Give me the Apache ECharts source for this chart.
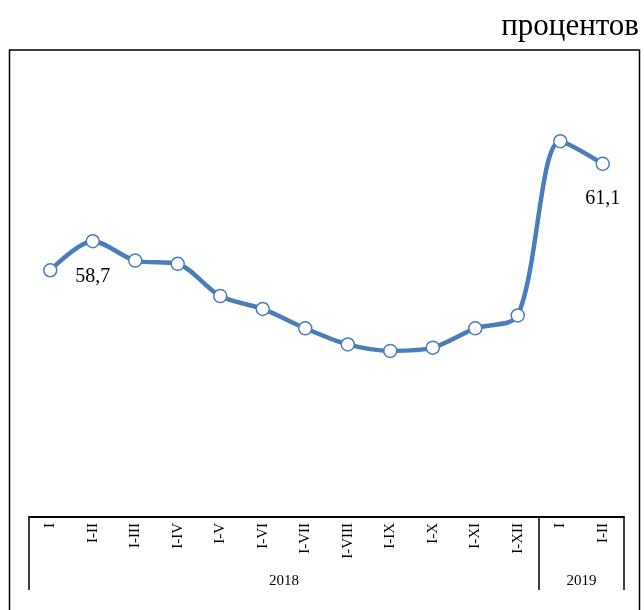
<!DOCTYPE html>
<html>
<head>
<meta charset="utf-8">
<script src="https://cdn.jsdelivr.net/npm/echarts@6/dist/echarts.min.js"></script>
<style>
    html, body { margin: 0; padding: 0; background: #fff; }
    #main { width: 644px; height: 610px; }
</style>
</head>
<body>
<div id="main"></div>
<script>
// подписи периодов
var periods = ['I', 'I-II', 'I-III', 'I-IV', 'I-V', 'I-VI', 'I-VII', 'I-VIII', 'I-IX', 'I-X', 'I-XI', 'I-XII', 'I', 'I-II'];
// значения, процентов
var values = [57.8, 58.7, 58.1, 58.0, 57.0, 56.6, 56.0, 55.5, 55.3, 55.4, 56.0, 56.4, 61.8, 61.1];
// годы и сколько периодов в каждом
var years = ['2018', '2019'];
var yearSpans = [12, 2];
// подписанные точки
var labeledIdx = [1, 13];

var yearStarts = [], yearCenters = {};
var acc = 0;
for (var i = 0; i < years.length; i++) {
    yearStarts.push(acc);
    yearCenters[acc + yearSpans[i] / 2] = years[i];
    acc += yearSpans[i];
}

var FONT = '"Liberation Serif", "Times New Roman", serif';
var BLUE = '#4a7ebb';

var chart = echarts.init(document.getElementById('main'));
var option = {
    animation: false,
    title: {
        text: 'процентов',
        right: 5,
        top: 11,
        padding: 0,
        textStyle: { fontFamily: FONT, fontSize: 31, fontWeight: 'normal', color: '#000' }
    },
    graphic: [{
        type: 'rect',
        shape: { x: 9.5, y: 50, width: 630, height: 580 },
        style: { fill: 'none', stroke: '#000', lineWidth: 1.5 },
        silent: true
    }],
    grid: { left: 29, right: 20, top: 59, bottom: 93 },
    xAxis: [
        {
            type: 'category',
            data: periods,
            boundaryGap: true,
            axisLine: { lineStyle: { color: '#000', width: 2 } },
            axisTick: {
                show: true,
                length: 73,
                interval: function (idx) { return yearStarts.indexOf(idx) >= 0; },
                lineStyle: { color: '#000', width: 1.5 }
            },
            axisLabel: {
                interval: 0,
                rotate: 90,
                margin: 6,
                fontFamily: FONT,
                fontSize: 15,
                color: '#000'
            }
        },
        {
            type: 'value',
            position: 'bottom',
            offset: 50,
            min: 0,
            max: periods.length,
            interval: 1,
            axisLine: { show: false },
            axisTick: { show: false },
            splitLine: { show: false },
            axisLabel: {
                margin: 7,
                fontFamily: FONT,
                fontSize: 15,
                color: '#000',
                formatter: function (v) { return yearCenters[v] || ''; }
            }
        }
    ],
    yAxis: {
        type: 'value',
        min: 50.15,
        max: 64.35,
        show: false,
        splitLine: { show: false }
    },
    series: [{
        type: 'line',
        data: values,
        smooth: 0.3,
        symbol: 'circle',
        symbolSize: 13,
        showAllSymbol: true,
        lineStyle: { color: BLUE, width: 4.5 },
        itemStyle: { color: '#fff', borderColor: BLUE, borderWidth: 1.5 },
        label: {
            show: true,
            position: 'bottom',
            distance: 18,
            fontFamily: FONT,
            fontSize: 20,
            color: '#000',
            formatter: function (p) {
                if (labeledIdx.indexOf(p.dataIndex) < 0) return '';
                return p.value.toFixed(1).replace('.', ',');
            }
        }
    }]
};
chart.setOption(option);
</script>
</body>
</html>
